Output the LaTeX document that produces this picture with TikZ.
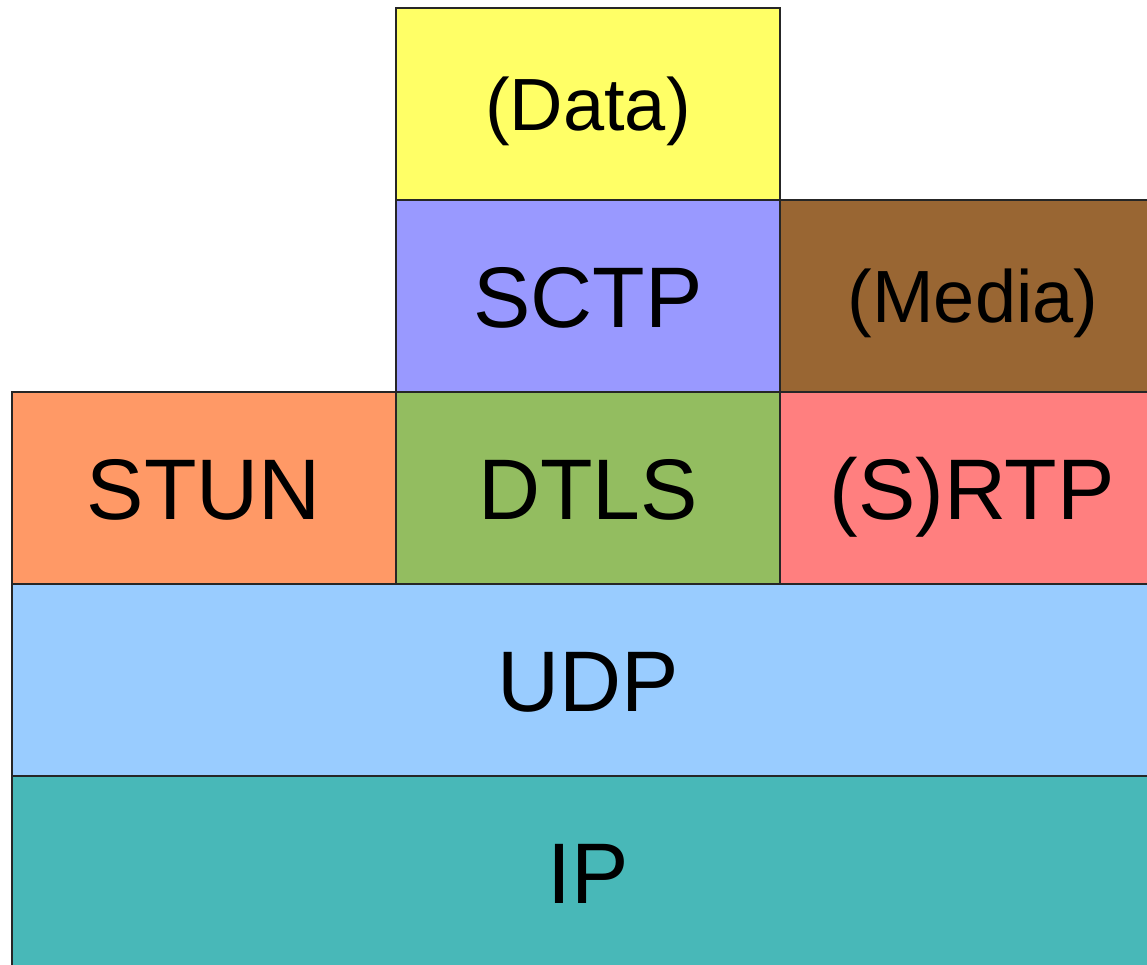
\documentclass[tikz,border=0pt]{standalone}
\usepackage{fontspec}
\setmainfont{Liberation Sans}
\definecolor{dataY}{HTML}{FFFF66}
\definecolor{sctpB}{HTML}{9999FF}
\definecolor{mediaB}{HTML}{996633}
\definecolor{stunO}{HTML}{FF9966}
\definecolor{dtlsG}{HTML}{93BD60}
\definecolor{srtpR}{HTML}{FF7F7F}
\definecolor{udpB}{HTML}{99CCFF}
\definecolor{ipT}{HTML}{48B8B8}
\tikzset{
  layer/.style={draw=black!85, line width=1.3pt, inner sep=0pt, outer sep=0pt,
    font=\fontsize{86}{86}\selectfont, text=black,
    text height=62pt, text depth=0pt},
  minor/.style={font=\fontsize{74}{74}\selectfont, text height=53pt},
}
% box from (x1,y1) to (x2,y2) in pixel units, y measured downward
\newcommand{\layerbox}[8][]{%
  \node[layer, #1, fill=#7, minimum width={#4-#2}, minimum height={#5-#3}]
    (#6) at ({(#2+#4)/2},{(#3+#5)/2}) {#8};}
\begin{document}
\begin{tikzpicture}[x=1pt,y=-1pt]
\useasboundingbox (0,0) rectangle (1147,964);
\clip (0,0) rectangle (1147,964);
\layerbox[minor]{396}{8}{780}{200}{data}{dataY}{(Data)}
\layerbox{396}{200}{780}{392}{sctp}{sctpB}{SCTP}
\layerbox[minor]{780}{200}{1166}{392}{media}{mediaB}{(Media)}
\layerbox{12}{392}{396}{584}{stun}{stunO}{STUN}
\layerbox{396}{392}{780}{584}{dtls}{dtlsG}{DTLS}
\layerbox{780}{392}{1164}{584}{srtp}{srtpR}{(S)RTP}
\layerbox{12}{584}{1160}{776}{udp}{udpB}{}
\layerbox{12}{776}{1160}{976}{ip}{ipT}{}
\node[layer, draw=none] (udpl) at (588,680) {UDP};
\node[layer, draw=none] (ipl) at (588,872) {IP};
\end{tikzpicture}
\end{document}
